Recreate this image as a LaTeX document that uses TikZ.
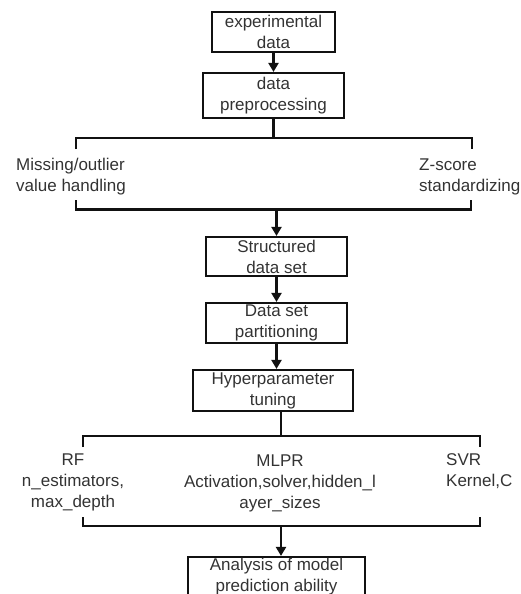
\documentclass[tikz,border=0pt]{standalone}
\usepackage{fontspec}
\setmainfont{Liberation Sans}
\usetikzlibrary{arrows.meta}
\definecolor{txt}{HTML}{333333}
\definecolor{lin}{HTML}{111111}
\begin{document}
\begin{tikzpicture}[x=1pt,y=-1pt,
  ln/.style={draw=lin,line width=2.2pt},
  arr/.style={ln,-{Triangle[length=9pt,width=10pt]}},
  box/.style={draw=lin,line width=2.2pt,inner sep=0pt,align=center,
    font=\fontsize{17}{21}\selectfont,text=txt},
  lbl/.style={inner sep=0pt,font=\fontsize{17}{21}\selectfont,text=txt}]
\useasboundingbox (0,0) rectangle (521,594);
\clip (0,0) rectangle (521,594);

% boxes
\node[box,minimum width=123pt,minimum height=40pt] (exp) at (273.5,32) {experimental\\data};
\node[box,minimum width=141pt,minimum height=45pt] (pre) at (273.5,95.5) {data\\preprocessing};
\node[box,minimum width=141pt,minimum height=39pt] (sds) at (276.5,256.5) {Structured\\data set};
\node[box,minimum width=141pt,minimum height=40pt] (dsp) at (276.5,323) {Data set\\partitioning};
\node[box,minimum width=160pt,minimum height=41pt] (hyp) at (273,390.5) {Hyperparameter\\tuning};
\node[box,minimum width=177pt,minimum height=40pt] (ana) at (276.5,577) {Analysis of model\\prediction ability};

% labels
\node[lbl,anchor=west,align=left] (mis) at (16,177) {Missing/outlier\\value handling};
\node[lbl,anchor=west,align=left] (zsc) at (419,177) {Z-score\\standardizing};
\node[lbl,align=center] (rf) at (73,482) {RF\\n\_estimators,\\max\_depth};
\node[lbl,align=center] (mlpr) at (280,483) {MLPR\\Activation,solver,hidden\_l\\ayer\_sizes};
\node[lbl,anchor=west,align=left] (svr) at (446,471.5) {SVR\\Kernel,C};

% bracket coordinates
\coordinate (a1) at (273.5,138);
\coordinate (a1l) at (76,138);
\coordinate (a1r) at (472,138);
\coordinate (a1lt) at (76,149);
\coordinate (a1rt) at (472,149);
\coordinate (b1l) at (76,209.5);
\coordinate (b1r) at (471,209.5);
\coordinate (b1lt) at (76,200);
\coordinate (b1rt) at (471,200);
\coordinate (a2) at (281,436);
\coordinate (a2l) at (83,436);
\coordinate (a2r) at (480,436);
\coordinate (a2lt) at (83,447);
\coordinate (a2rt) at (480,447);
\coordinate (b2) at (281,526);
\coordinate (b2l) at (83,526);
\coordinate (b2r) at (480,526);
\coordinate (b2lt) at (83,517);
\coordinate (b2rt) at (480,517);

% connectors
\draw[arr] (exp.south) -- (pre.north);
\draw[ln] (pre.south) -- (a1);
\draw[ln] (a1lt) -- (a1l) -- (a1r) -- (a1rt);
\draw[ln] (b1lt) -- (b1l) -- (b1r) -- (b1rt);
\draw[arr] (sds.north |- b1l) -- (sds.north);
\draw[arr] (sds.south) -- (dsp.north);
\draw[arr] (dsp.south) -- (dsp.south |- hyp.north);
\draw[ln] (hyp.south -| a2) -- (a2);
\draw[ln] (a2lt) -- (a2l) -- (a2r) -- (a2rt);
\draw[ln] (b2lt) -- (b2l) -- (b2r) -- (b2rt);
\draw[arr] (b2) -- (b2 |- ana.north);
\end{tikzpicture}
\end{document}
